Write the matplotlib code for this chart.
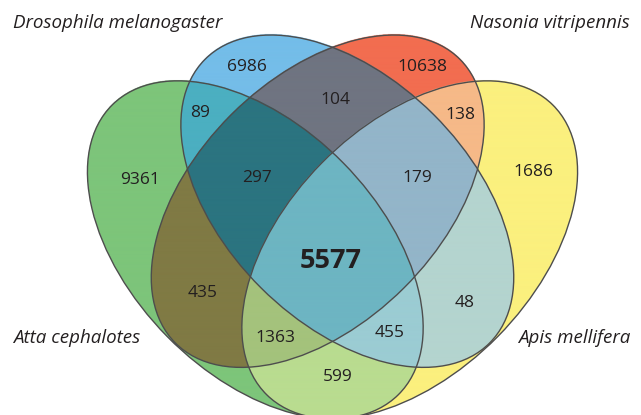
import numpy as np
import matplotlib
matplotlib.use('Agg')
import matplotlib.pyplot as plt
from matplotlib.patches import Ellipse

#-------------------------------------------------------------------------------
# data
species = ['Atta cephalotes', 'Drosophila melanogaster', 'Nasonia vitripennis', 'Apis mellifera']
# region key: G=Atta, B=Drosophila, R=Nasonia, Y=Apis
regions = ['G', 'B', 'R', 'Y', 'GB', 'BR', 'RY', 'GY', 'GR', 'BY', 'GBR', 'BRY', 'GRY', 'GBY', 'GBRY']
counts = [9361, 6986, 10638, 1686, 89, 104, 138, 599, 435, 48, 297, 179, 1363, 455, 5577]

region_colors = {'G': '#7DC57A', 'B': '#74BDE9', 'R': '#F26D50', 'Y': '#FBF07E',
                 'GB': '#4BAFC1', 'BR': '#6F7481', 'RY': '#F6B988', 'GY': '#B9DC90',
                 'GR': '#807A44', 'BY': '#B4D4CF', 'GBR': '#2B7480', 'BRY': '#93B5C9',
                 'GRY': '#A4C27C', 'GBY': '#9BCCD3', 'GBRY': '#6DB5C2'}
label_pos = {'G': (140, 180), 'B': (247, 67), 'R': (422, 67), 'Y': (533, 172),
             'GB': (200, 113), 'BR': (335, 100), 'RY': (460, 115), 'GY': (338, 377),
             'GR': (203, 293), 'BY': (465, 303), 'GBR': (257, 178), 'BRY': (417, 178),
             'GRY': (275, 338), 'GBY': (390, 333), 'GBRY': (331, 261)}

#-------------------------------------------------------------------------------
# ellipses (pixel coords, y down); right pair mirrors the left pair
axis_x = 332.5
inner = (347.3, 201.2, 200.9, 122.3, 44.9)   # Drosophila
outer = (255.3, 249.8, 203.6, 123.6, 45.4)   # Atta
mirror = lambda e: (2*axis_x - e[0], e[1], e[2], e[3], 180 - e[4])
shapes = {'B': inner, 'R': mirror(inner), 'G': outer, 'Y': mirror(outer)}

#-------------------------------------------------------------------------------
W, H = 641, 415
fig = plt.figure(figsize=(6.41, 4.15), dpi=100)
ax = fig.add_axes([0, 0, 1, 1])
ax.set_xlim(0, W)
ax.set_ylim(H, 0)
ax.axis('off')

ss = 3
X, Y = np.meshgrid((np.arange(W*ss)+0.5)/ss, (np.arange(H*ss)+0.5)/ss)
inside = {}
for k, (cx, cy, a, b, ang) in shapes.items():
    t = np.radians(ang)
    u = (X-cx)*np.cos(t) + (Y-cy)*np.sin(t)
    v = -(X-cx)*np.sin(t) + (Y-cy)*np.cos(t)
    inside[k] = (u/a)**2 + (v/b)**2 <= 1

img = np.ones((H*ss, W*ss, 4))
for reg in regions:
    mask = np.ones_like(X, bool)
    for k in 'GBRY':
        mask &= inside[k] if k in reg else ~inside[k]
    img[mask] = matplotlib.colors.to_rgba(region_colors[reg])
ax.imshow(img, extent=(0, W, H, 0), interpolation='antialiased', aspect='auto')

for k, (cx, cy, a, b, ang) in shapes.items():
    ax.add_patch(Ellipse((cx, cy), 2*a, 2*b, angle=ang, fill=False, ec='#4D4D4D', lw=1.0))

for reg, n in zip(regions, counts):
    x, y = label_pos[reg]
    if reg == 'GBRY':
        ax.text(x, y, str(n), ha='center', va='center', fontsize=19.5, fontweight='bold',
                family='Open Sans', color='#231F20')
    else:
        ax.text(x, y, str(n), ha='center', va='center', fontsize=12.5,
                family='Open Sans', color='#231F20')

name_style = dict(fontsize=13.5, style='italic', family='Open Sans', color='#231F20', va='baseline')
ax.text(13, 27.5, species[1], ha='left', **name_style)
ax.text(630, 27.5, species[2], ha='right', **name_style)
ax.text(13, 342.5, species[0], ha='left', **name_style)
ax.text(630, 342.5, species[3], ha='right', **name_style)

fig.savefig('out.png', dpi=100)
